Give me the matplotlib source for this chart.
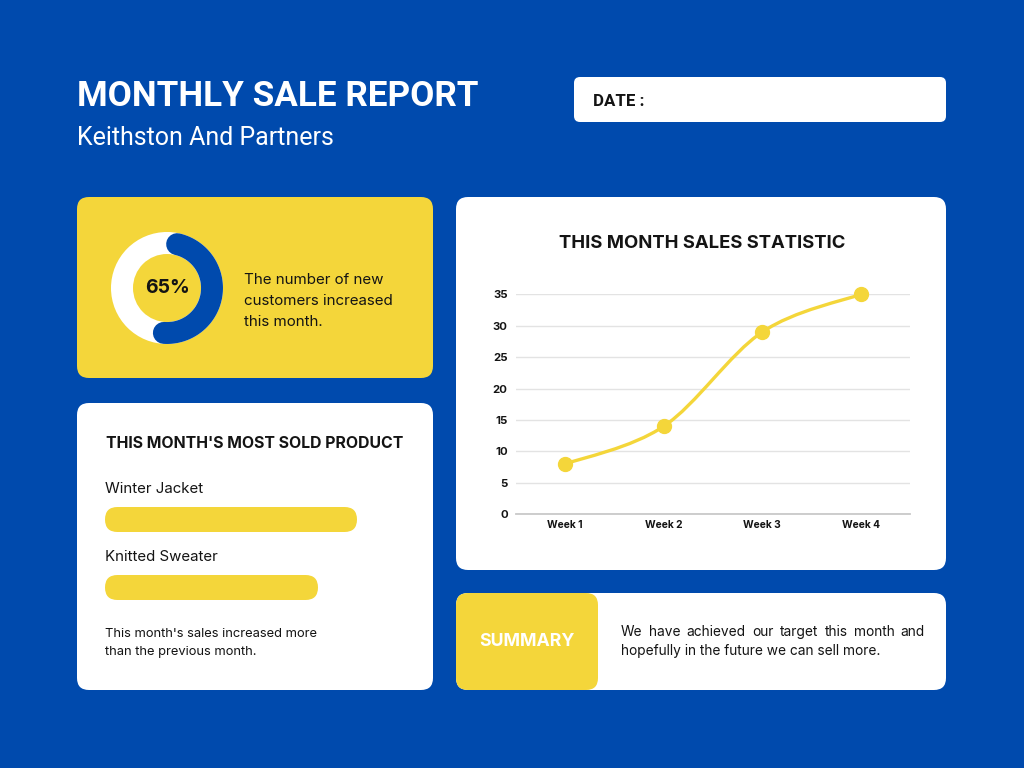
import numpy as np
import matplotlib
matplotlib.use("Agg")
import matplotlib.pyplot as plt
from matplotlib.patches import FancyBboxPatch, Circle
from matplotlib.path import Path
from matplotlib.patches import PathPatch

BLUE = "#004aad"
YELLOW = "#f4d63a"
INK = "#141414"

# data
weeks = ["Week 1", "Week 2", "Week 3", "Week 4"]
sales = [8, 14, 29, 35]
y_ticks = [0, 5, 10, 15, 20, 25, 30, 35]

products = ["Winter Jacket", "Knitted Sweater"]
product_sales = [84, 71]

new_customer_pct = 65

title = "MONTHLY SALE REPORT"
subtitle = "Keithston And Partners"
summary_lines = ["We have achieved our target this month and",
                 "hopefully in the future we can sell more."]


def panel(ax, x, y, w, h, color, r=12):
    """Rounded box in pixel coords (y grows downward)."""
    ax.add_patch(FancyBboxPatch((x, y), w, h,
                                boxstyle=f"round,pad=0,rounding_size={r}",
                                fc=color, ec="none", zorder=1))


def px_axes(fig, x0, y0, x1, y1):
    """Axes placed by pixel box (top-left origin)."""
    W, H = 1024, 768
    return fig.add_axes([x0 / W, 1 - y1 / H, (x1 - x0) / W, (y1 - y0) / H])


def smooth_path(xs, ys):
    """Catmull-Rom curve through the points as cubic Bezier segments."""
    pts = np.column_stack([xs, ys]).astype(float)
    ext = np.vstack([pts[0], pts, pts[-1]])
    verts = [tuple(pts[0])]
    codes = [Path.MOVETO]
    for i in range(1, len(ext) - 2):
        p0, p1, p2, p3 = ext[i - 1], ext[i], ext[i + 1], ext[i + 2]
        c1 = p1 + (p2 - p0) / 6
        c2 = p2 - (p3 - p1) / 6
        verts += [tuple(c1), tuple(c2), tuple(p2)]
        codes += [Path.CURVE4] * 3
    return Path(verts, codes)


def justified(ax, fig, x0, x1, y, line, **kw):
    """Spread the words of one line between x0 and x1 (pixel coords)."""
    words = line.split()
    r = fig.canvas.get_renderer()
    widths = []
    for w in words:
        t = ax.text(0, 0, w, **kw)
        widths.append(t.get_window_extent(r).width)
        t.remove()
    gap = (x1 - x0 - sum(widths)) / (len(words) - 1)
    x = x0
    for w, wd in zip(words, widths):
        ax.text(x, y, w, va="center", **kw)
        x += wd + gap


fig = plt.figure(figsize=(10.24, 7.68), dpi=100)
fig.patch.set_facecolor(BLUE)
bg = fig.add_axes([0, 0, 1, 1])
bg.set_xlim(0, 1024)
bg.set_ylim(768, 0)
bg.axis("off")

# header
bg.text(77, 97, title, color="white", fontsize=25.2, fontweight="bold",
        family="Roboto", va="center", ha="left")
bg.text(77, 138, subtitle, color="white", fontsize=18,
        family="Roboto", va="center", ha="left")
panel(bg, 574, 77, 372, 45, "white", r=6)
bg.text(593, 101, "DATE :", color=INK, fontsize=12.2, fontweight="bold",
        family="Roboto", va="center")

# customer donut card
panel(bg, 77, 197, 356, 181, YELLOW)
cx, cy = 167, 288
bg.add_patch(Circle((cx, cy), 56, fc="white", ec="none", zorder=2))
bg.add_patch(Circle((cx, cy), 34, fc=YELLOW, ec="none", zorder=3))
ang = np.radians(np.linspace(13, 184, 120))
bg.plot(cx + 45 * np.sin(ang), cy - 45 * np.cos(ang), color=BLUE,
        lw=15.8, solid_capstyle="round", zorder=4)
bg.text(cx, cy, f"{new_customer_pct}%", color=INK, fontsize=14,
        fontweight="bold", family="Inter", ha="center", va="center", zorder=5)
bg.text(244, 301, "The number of new\ncustomers increased\nthis month.",
        color=INK, fontsize=10.9, family="Inter", va="center",
        linespacing=1.62)

# most sold product card
panel(bg, 77, 403, 356, 287, "white")
bg.text(255, 443, "THIS MONTH'S MOST SOLD PRODUCT", color=INK, fontsize=11.4,
        fontweight="bold", family="Inter", ha="center", va="center")
label_y = [489, 557]
for name, ly in zip(products, label_y):
    bg.text(105, ly, name, color=INK, fontsize=10.8, family="Inter",
            va="center")

bar_ax = px_axes(fig, 105, 507, 405, 600)
bar_ax.set_xlim(0, 100)
bar_ax.set_ylim(31, 0)
bar_ax.axis("off")
bar_top = [0, 68 / 3]
for val, top in zip(product_sales, bar_top):
    bar_ax.add_patch(FancyBboxPatch((0, top), val, 25 / 3,
                                    boxstyle=f"round,pad=0,rounding_size={12.5 / 3}",
                                    fc=YELLOW, ec="none"))

bg.text(105, 643, "This month's sales increased more\nthan the previous month.",
        color=INK, fontsize=9.3, family="Inter", va="center", linespacing=1.62)

# sales statistic card
panel(bg, 456, 197, 490, 373, "white")
bg.text(702, 243, "THIS MONTH SALES STATISTIC", color=INK, fontsize=13.3,
        fontweight="bold", family="Inter", ha="center", va="center")

ax = px_axes(fig, 516, 294.3, 910, 514.3)
ax.set_facecolor("none")
xs = np.arange(len(weeks)) + 0.5
ax.set_xlim(0, 4)
ax.set_ylim(0, 35)
ax.set_yticks(y_ticks)
ax.set_xticks(xs)
ax.set_xticklabels(weeks)
for s in ax.spines.values():
    s.set_visible(False)
ax.grid(axis="y", color="#e3e3e3", lw=1)
ax.axhline(0, color="#c9c9c9", lw=1.3, clip_on=False)
ax.tick_params(axis="y", length=0, labelsize=8.2, labelcolor=INK, pad=6)
ax.tick_params(axis="x", length=0, labelsize=7.4, labelcolor=INK, pad=4)
for lab in ax.get_xticklabels() + ax.get_yticklabels():
    lab.set_fontweight("bold")
    lab.set_family("Inter")

ax.add_patch(PathPatch(smooth_path(xs, sales), fc="none", ec=YELLOW,
                       lw=2.4, clip_on=False, zorder=3))
ax.plot(xs, sales, "o", color=YELLOW, ms=10, clip_on=False, zorder=4)

# summary card
panel(bg, 456, 593, 490, 97, "white")
panel(bg, 456, 593, 142, 97, YELLOW)
bg.text(527, 641, "SUMMARY", color="white", fontsize=12.8, fontweight="bold",
        family="Inter", ha="center", va="center", zorder=3)
txt_kw = dict(color=INK, fontsize=9.9, family="Inter", zorder=3)
justified(bg, fig, 621, 925, 632, summary_lines[0], **txt_kw)
bg.text(621, 651, summary_lines[1], va="center", **txt_kw)

fig.savefig("out.png", dpi=100, facecolor=BLUE)
